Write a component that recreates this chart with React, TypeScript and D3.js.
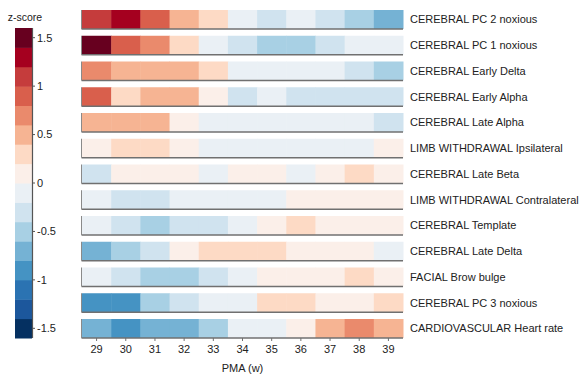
import React from 'react'
import * as d3 from 'd3'

// rows, top to bottom
const rowLabels = [
  'CEREBRAL PC 2 noxious',
  'CEREBRAL PC 1 noxious',
  'CEREBRAL Early Delta',
  'CEREBRAL Early Alpha',
  'CEREBRAL Late Alpha',
  'LIMB WITHDRAWAL Ipsilateral',
  'CEREBRAL Late Beta',
  'LIMB WITHDRAWAL Contralateral',
  'CEREBRAL Template',
  'CEREBRAL Late Delta',
  'FACIAL Brow bulge',
  'CEREBRAL PC 3 noxious',
  'CARDIOVASCULAR Heart rate',
]

const weeks = [29, 30, 31, 32, 33, 34, 35, 36, 37, 38, 39]

// z-scores per row, one value per week
const pc2 = [1.1, 1.3, 0.9, 0.5, 0.3, -0.1, -0.3, -0.1, -0.3, -0.5, -0.7]
const pc1 = [1.5, 0.9, 0.7, 0.3, -0.1, -0.3, -0.5, -0.5, -0.3, -0.1, -0.1]
const earlyDelta = [0.7, 0.5, 0.5, 0.5, 0.3, -0.1, -0.1, -0.1, -0.1, -0.3, -0.5]
const earlyAlpha = [0.9, 0.3, 0.5, 0.5, 0.1, -0.3, -0.1, -0.3, -0.3, -0.3, -0.3]
const lateAlpha = [0.5, 0.5, 0.5, 0.1, -0.1, -0.1, -0.1, -0.1, -0.1, -0.1, -0.3]
const limbIpsi = [0.1, 0.3, 0.3, 0.1, -0.1, -0.1, -0.1, -0.1, -0.1, -0.1, 0.1]
const lateBeta = [-0.3, 0.1, 0.1, 0.1, -0.1, 0.1, 0.1, -0.1, 0.1, 0.3, 0.1]
const limbContra = [-0.1, -0.3, -0.3, -0.1, -0.1, -0.1, -0.1, 0.1, 0.1, 0.1, 0.1]
const template = [-0.1, -0.3, -0.5, -0.3, -0.3, -0.1, 0.1, 0.3, 0.1, 0.1, 0.1]
const lateDelta = [-0.7, -0.5, -0.3, 0.1, 0.3, 0.3, 0.3, 0.1, 0.1, 0.1, -0.1]
const browBulge = [-0.1, -0.3, -0.5, -0.5, -0.3, -0.1, 0.1, 0.1, 0.1, 0.3, 0.1]
const pc3 = [-0.9, -0.9, -0.5, -0.3, -0.1, -0.1, 0.3, 0.3, 0.1, 0.1, 0.3]
const heartRate = [-0.7, -0.9, -0.7, -0.7, -0.5, -0.1, -0.1, 0.1, 0.5, 0.7, 0.5]

const rowValues = [
  pc2, pc1, earlyDelta, earlyAlpha, lateAlpha, limbIpsi, lateBeta,
  limbContra, template, lateDelta, browBulge, pc3, heartRate,
]

const cbTicks = [-1.5, -1, -0.5, 0, 0.5, 1, 1.5]

// discrete RdBu, low to high
const palette = [
  '#053061', '#1c579c', '#2b73b2', '#4593c3', '#75b2d4', '#a8d0e4', '#d0e3ef', '#eaf0f5',
  '#fbefe9', '#fddac5', '#f6b493', '#ea8a6c', '#d95f4c', '#c53c3c', '#a5001f', '#67001f',
]

const font = '"Liberation Sans", Arial, Helvetica, sans-serif'

export default function App() {
  const width = 580
  const height = 374
  const zMin = -1.6
  const zMax = 1.6

  const color = d3.scaleQuantize<string>().domain([zMin, zMax]).range(palette)
  const x = d3.scaleBand<number>().domain(weeks).range([82, 403]).padding(0)
  const y = d3.scaleBand<string>().domain(rowLabels).range([10, 338]).paddingInner(0.262).paddingOuter(0)

  const cb = d3.scaleLinear().domain([zMin, zMax]).range([338, 28])
  const step = (zMax - zMin) / palette.length
  const levels = palette.map((c, i) => ({ c, lo: zMin + i * step, hi: zMin + (i + 1) * step }))

  const bw = x.bandwidth()
  const bh = y.bandwidth()
  const axisGray = '#707070'

  return (
    <svg width={width} height={height} style={{ position: 'absolute', left: 0, top: 0 }}>
      <rect width={width} height={height} fill="#fff" />

      {/* heatmap rows */}
      {rowLabels.map((label, r) => {
        const y0 = y(label) as number
        return (
          <g key={label}>
            {rowValues[r].map((v, j) => (
              <rect
                key={j}
                x={x(weeks[j]) as number}
                y={y0}
                width={bw + 0.5}
                height={bh}
                fill={color(v)}
              />
            ))}
            <line x1={81.5} x2={403} y1={y0 + bh} y2={y0 + bh} stroke={axisGray} strokeWidth={1.5} />
            <line x1={81.5} x2={81.5} y1={y0} y2={y0 + bh} stroke="#8a8a8a" strokeWidth={1} />
            <text
              x={410}
              y={y0 + bh / 2}
              dy="0.35em"
              fontSize={11}
              fontFamily={font}
              fill="#222"
            >
              {label}
            </text>
          </g>
        )
      })}

      {/* x axis */}
      {weeks.map((w) => {
        const cx = (x(w) as number) + bw / 2
        return (
          <g key={w}>
            <line x1={cx} x2={cx} y1={338} y2={341} stroke={axisGray} strokeWidth={1} />
            <text x={cx} y={353} textAnchor="middle" fontSize={11} fontFamily={font} fill="#222">
              {w}
            </text>
          </g>
        )
      })}
      <text x={242.5} y={372} textAnchor="middle" fontSize={11} fontFamily={font} fill="#222">
        PMA (w)
      </text>

      {/* colorbar */}
      <text x={25} y={21} textAnchor="middle" fontSize={10.5} fontFamily={font} fill="#222">
        z-score
      </text>
      {levels.map((l, i) => (
        <rect
          key={i}
          x={15}
          y={cb(l.hi)}
          width={17}
          height={cb(l.lo) - cb(l.hi) + 0.5}
          fill={l.c}
        />
      ))}
      <line x1={32.5} x2={32.5} y1={28} y2={338} stroke="#555" strokeWidth={1.2} />
      {cbTicks.map((t) => (
        <g key={t}>
          <line x1={32.5} x2={35} y1={cb(t)} y2={cb(t)} stroke="#555" strokeWidth={1} />
          <text x={37} y={cb(t)} dy="0.35em" fontSize={11} fontFamily={font} fill="#222">
            {t}
          </text>
        </g>
      ))}
    </svg>
  )
}
